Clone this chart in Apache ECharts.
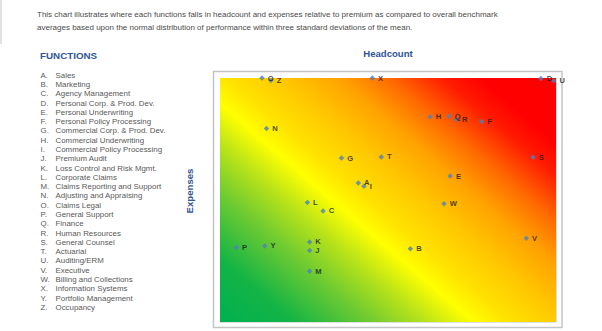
<!DOCTYPE html>
<html>
<head>
<meta charset="utf-8">
<script src="https://cdn.jsdelivr.net/npm/echarts@6/dist/echarts.min.js"></script>
<style>
  html, body { margin: 0; padding: 0; background: #ffffff; }
  #chart { width: 602px; height: 331px; }
</style>
</head>
<body>
<div id="chart"></div>
<script>
// Function codes and names
const letters = ['A','B','C','D','E','F','G','H','I','J','K','L','M','N','O','P','Q','R','S','T','U','V','W','X','Y','Z'];
const functionNames = [
  'Sales', 'Marketing', 'Agency Management', 'Personal Corp. & Prod. Dev.',
  'Personal Underwriting', 'Personal Policy Processing', 'Commercial Corp. & Prod. Dev.',
  'Commercial Underwriting', 'Commercial Policy Processing', 'Premium Audit',
  'Loss Control and Risk Mgmt.', 'Corporate Claims', 'Claims Reporting and Support',
  'Adjusting and Appraising', 'Claims Legal', 'General Support', 'Finance',
  'Human Resources', 'General Counsel', 'Actuarial', 'Auditing/ERM', 'Executive',
  'Billing and Collections', 'Information Systems', 'Portfolio Management', 'Occupancy'
];

// Standard deviations from the benchmark mean
const headcount = [-0.53, 0.40, -1.16, 2.73, 1.11, 1.67, -0.83, 0.75, -0.43, -1.40, -1.40, -1.44, -1.40,
                   -2.17, -2.25, -2.71, 1.09, 1.22, 2.59, -0.12, 2.96, 2.47, 1.00, -0.28, -2.20, -2.09];
const expenses  = [0.42, -1.20, -0.27, 2.99, 0.59, 1.93, 1.03, 2.05, 0.34, -1.24, -1.03, -0.06, -1.75,
                   1.76, 3.00, -1.17, 2.06, 1.98, 1.05, 1.06, 2.93, -0.94, -0.09, 3.00, -1.13, 2.94];

const introLines = [
  'This chart illustrates where each functions falls in headcount and expenses relative to premium as compared to overall benchmark',
  'averages based upon the normal distribution of performance within three standard deviations of the mean.'
];

const chart = echarts.init(document.getElementById('chart'), null, { renderer: 'svg' });

const blue = '#2f5597';
const textFont = 'Liberation Sans, Arial, sans-serif';

const GRID = { left: 220, top: 78, width: 336, height: 244 };

const graphics = [];
// left page edge
graphics.push({ type: 'rect', shape: { x: 0, y: 0, width: 2, height: 44 }, style: { fill: '#e2e2e2' }, silent: true });
introLines.forEach((t, i) => {
  graphics.push({ type: 'text', x: 37, y: 14.5 + i * 12.7,
    style: { text: t, font: '8px ' + textFont, fill: '#4a4a4a', textAlign: 'left', textVerticalAlign: 'middle' } });
});
graphics.push({ type: 'text', x: 40, y: 55.5,
  style: { text: 'FUNCTIONS', font: 'bold 9.8px ' + textFont, fill: blue, textAlign: 'left', textVerticalAlign: 'middle' } });
letters.forEach((l, i) => {
  const y = 75.3 + i * 9.28;
  graphics.push({ type: 'text', x: 40.5, y: y,
    style: { text: l + '.', font: '7.9px ' + textFont, fill: '#595959', textAlign: 'left', textVerticalAlign: 'middle' } });
  graphics.push({ type: 'text', x: 55.5, y: y,
    style: { text: functionNames[i], font: '7.9px ' + textFont, fill: '#595959', textAlign: 'left', textVerticalAlign: 'middle' } });
});
// chart frame
graphics.push({ type: 'rect', shape: { x: 213.5, y: 71.5, width: 348.5, height: 256 },
  style: { fill: 'none', stroke: '#c4c4c4', lineWidth: 1.5 }, silent: true, z: 0 });
graphics.push({ type: 'text', x: 388, y: 53,
  style: { text: 'Headcount', font: 'bold 9.6px ' + textFont, fill: blue, textAlign: 'center', textVerticalAlign: 'middle' } });
graphics.push({ type: 'text', x: 189, y: 191, rotation: Math.PI / 2,
  style: { text: 'Expenses', font: 'bold 9.6px ' + textFont, fill: blue, textAlign: 'center', textVerticalAlign: 'middle' } });

// Heat background: green (low/low) through yellow to red (high/high), in page pixels
const gx0 = GRID.left, gy0 = GRID.top + GRID.height;
const heat = new echarts.graphic.LinearGradient(gx0, gy0, gx0 + 263.4, gy0 - 306.2, [
  { offset: 0.00, color: '#00b050' },
  { offset: 0.12, color: '#14b446' },
  { offset: 0.24, color: '#6cca32' },
  { offset: 0.33, color: '#b6e21a' },
  { offset: 0.41, color: '#ffff00' },
  { offset: 0.47, color: '#ffe200' },
  { offset: 0.56, color: '#ffc600' },
  { offset: 0.65, color: '#ffa200' },
  { offset: 0.73, color: '#ff6a00' },
  { offset: 0.82, color: '#ff1a00' },
  { offset: 0.88, color: '#ff0000' },
  { offset: 1.00, color: '#ff0000' }
], true);

const points = letters.map((l, i) => [headcount[i], expenses[i], l]);

chart.setOption({
  animation: false,
  backgroundColor: '#ffffff',
  graphic: graphics,
  grid: GRID,
  xAxis: {
    type: 'value', min: -3, max: 3, interval: 3,
    axisLine: { show: false }, axisTick: { show: false }, axisLabel: { show: false },
    splitLine: { show: true, lineStyle: { color: 'rgba(140,140,140,0.28)', width: 1 } }
  },
  yAxis: {
    type: 'value', min: -3, max: 3, interval: 3,
    axisLine: { show: false }, axisTick: { show: false }, axisLabel: { show: false },
    splitLine: { show: true, lineStyle: { color: 'rgba(140,140,140,0.28)', width: 1 } }
  },
  series: [
    {
      type: 'scatter', data: [], z: 0, silent: true,
      markArea: {
        silent: true,
        itemStyle: { color: heat, borderWidth: 0 },
        data: [[{ coord: [-3, -3] }, { coord: [3, 3] }]]
      }
    },
    {
      type: 'scatter', z: 5, clip: false,
      symbol: 'diamond', symbolSize: 5.5,
      itemStyle: { color: '#4f81bd' },
      label: {
        show: true, position: 'right', distance: 3,
        formatter: p => p.data[2],
        color: '#1a1a1a', fontSize: 7.6, fontWeight: 'bold', fontFamily: textFont
      },
      data: points
    }
  ]
});
</script>
</body>
</html>
